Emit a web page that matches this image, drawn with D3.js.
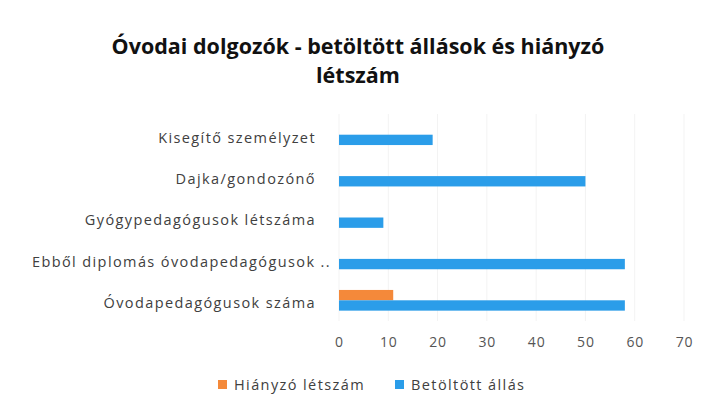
<!DOCTYPE html>
<html>
<head>
<meta charset="utf-8">
<script src="https://cdn.jsdelivr.net/npm/d3@7"></script>
<style>
  html, body { margin: 0; padding: 0; background: #ffffff; }
  svg { display: block; }
</style>
</head>
<body>
<svg id="chart" width="709" height="414"></svg>
<script>
// ---- data ----
const categories = [
  "Kisegítő személyzet",
  "Dajka/gondozónő",
  "Gyógypedagógusok létszáma",
  "Ebből diplomás óvodapedagógusok ..",
  "Óvodapedagógusok száma"
];
const seriesNames = ["Hiányzó létszám", "Betöltött állás"];
const hianyzo = [0, 0, 0, 0, 11];
const betoltott = [19, 50, 9, 58, 58];
const xTicks = [0, 10, 20, 30, 40, 50, 60, 70];
const titleLines = ["Óvodai dolgozók - betöltött állások és hiányzó", "létszám"];
const colors = ["#f4893a", "#2b9de9"];

// ---- layout ----
const svg = d3.select("#chart");
const W = 709, H = 414;
const FONT = "'Open Sans', Lato, sans-serif";
svg.append("rect").attr("width", W).attr("height", H).attr("fill", "#fff");

const plot = { left: 339, right: 684, top: 114, bottom: 321 };
const x = d3.scaleLinear().domain([0, 70]).range([plot.left, plot.right]);
const y = d3.scaleBand().domain(categories).range([plot.top, plot.bottom]).paddingInner(0.5).paddingOuter(0.25);
const ySub = d3.scaleBand().domain(seriesNames).range([0, y.bandwidth()]);

// gridlines
svg.append("g").selectAll("line").data(xTicks).join("line")
  .attr("x1", d => x(d)).attr("x2", d => x(d))
  .attr("y1", plot.top).attr("y2", plot.bottom)
  .attr("stroke", "#f3f3f3").attr("stroke-width", 1);

// bars
const seriesData = [hianyzo, betoltott];
seriesNames.forEach((s, si) => {
  svg.append("g").selectAll("rect").data(categories).join("rect")
    .attr("x", x(0))
    .attr("y", (c) => y(c) + ySub(s))
    .attr("width", (c, i) => x(seriesData[si][i]) - x(0))
    .attr("height", ySub.bandwidth())
    .attr("fill", colors[si]);
});

// x axis labels
const xAxis = d3.axisBottom(x).tickValues(xTicks).tickSize(0).tickPadding(16);
const gx = svg.append("g").attr("transform", `translate(0,${plot.bottom})`).call(xAxis);
gx.select(".domain").remove();
gx.selectAll("text").attr("font-family", FONT).attr("font-size", 14)
  .attr("letter-spacing", "0.8px").attr("fill", "#555");

// y axis labels
const yAxis = d3.axisLeft(y).tickSize(0).tickPadding(23);
const gy = svg.append("g").attr("transform", `translate(${plot.left},0)`).call(yAxis);
gy.select(".domain").remove();
gy.selectAll("text").attr("font-family", FONT).attr("font-size", 14.5)
  .attr("letter-spacing", "1.4px").attr("fill", "#404040").attr("dy", "0.55em");
// last label's ".." sticks out past the others in the reference
gy.selectAll("text").filter(d => d.endsWith("..")).attr("dx", 15);

// title (two separate lines)
svg.append("g").selectAll("text").data(titleLines).join("text")
  .attr("x", 358).attr("y", (d, i) => 54 + i * 29)
  .attr("text-anchor", "middle")
  .attr("font-family", FONT)
  .attr("font-weight", 700).attr("font-size", 21.5).attr("fill", "#111")
  .text(d => d);

// legend
const legendX = [218, 395];
const lg = svg.append("g");
seriesNames.forEach((s, i) => {
  lg.append("rect").attr("x", legendX[i]).attr("y", 380).attr("width", 9).attr("height", 9).attr("fill", colors[i]);
  lg.append("text").attr("x", legendX[i] + 16).attr("y", 389.5)
    .attr("font-family", FONT).attr("font-size", 14.5).attr("letter-spacing", "1.4px").attr("fill", "#404040")
    .text(s);
});
</script>
</body>
</html>
